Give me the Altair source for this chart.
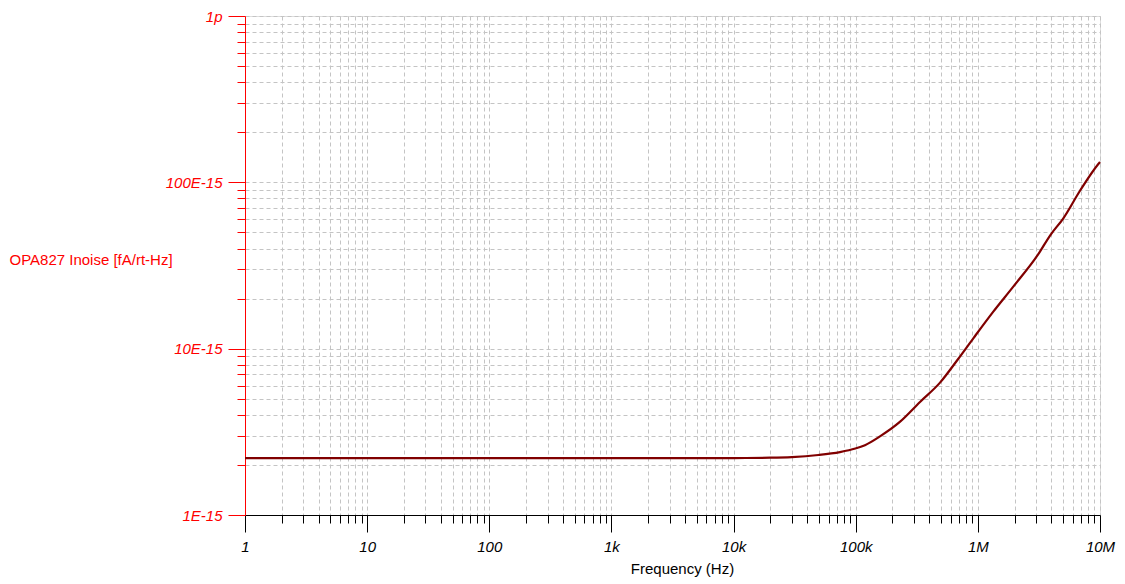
import altair as alt
import pandas as pd

# Frequency (Hz) and OPA827 current noise (fA/rt-Hz)
freq_hz = [1, 10, 100, 1000, 10000, 20000, 30000, 49400, 74300, 99300,
           119000, 158000, 231000, 336000, 490000, 692000, 918000, 1338000,
           1950000, 3125000, 3900000, 5010000, 6860000, 9690000, 10000000]
inoise_fa = [2.2, 2.2, 2.2, 2.2, 2.2, 2.21, 2.23, 2.295, 2.39, 2.51,
             2.63, 2.97, 3.64, 4.78, 6.25, 8.7, 11.54, 16.69,
             23.6, 37.0, 47.9, 60.8, 89.0, 128.9, 132.5]

x_tick_values = [1, 2, 3, 4, 5, 6, 7, 8, 9,
                 10, 20, 30, 40, 50, 60, 70, 80, 90,
                 100, 200, 300, 400, 500, 600, 700, 800, 900,
                 1000, 2000, 3000, 4000, 5000, 6000, 7000, 8000, 9000,
                 10000, 20000, 30000, 40000, 50000, 60000, 70000, 80000, 90000,
                 100000, 200000, 300000, 400000, 500000, 600000, 700000, 800000, 900000,
                 1000000, 2000000, 3000000, 4000000, 5000000, 6000000, 7000000, 8000000, 9000000,
                 10000000]
x_major = [1, 10, 100, 1000, 10000, 100000, 1000000, 10000000]
x_major_labels = ["1", "10", "100", "1k", "10k", "100k", "1M", "10M"]

y_tick_values = [1, 2, 3, 4, 5, 6, 7, 8, 9,
                 10, 20, 30, 40, 50, 60, 70, 80, 90,
                 100, 200, 300, 400, 500, 600, 700, 800, 900,
                 1000]
y_major = [1, 10, 100, 1000]
y_major_labels = ["1E-15", "10E-15", "100E-15", "1p"]

df = pd.DataFrame({"f": freq_hz, "i": inoise_fa})


def label_expr(values, labels):
    expr = "''"
    for v, lab in reversed(list(zip(values, labels))):
        expr = f"datum.value == {v} ? '{lab}' : ({expr})"
    return expr


def minor_test(values):
    arr = ",".join(str(v) for v in values)
    return f"indexof([{arr}], datum.value) < 0"


FONT = "Liberation Sans"

x_axis = alt.Axis(
    values=x_tick_values,
    labelExpr=label_expr(x_major, x_major_labels),
    tickSize={"condition": {"test": minor_test(x_major), "value": 8}, "value": 17},
    tickColor="#000000",
    tickWidth=1,
    domainColor="#000000",
    domainWidth=1,
    grid=True,
    gridColor="#c4c4c4",
    gridDash=[4, 3],
    gridWidth=1,
    labelFont=FONT,
    labelFontSize=15,
    labelFontStyle="italic",
    labelColor="#000000",
    labelPadding=7,
    labelFlush=False,
    labelOverlap=False,
    title="Frequency (Hz)",
    titleFont=FONT,
    titleFontSize=15,
    titleFontWeight="normal",
    titleColor="#000000",
    titleX=437,
    titleY=53,
    titleAlign="center",
    titleBaseline="middle",
)

y_axis = alt.Axis(
    values=y_tick_values,
    labelExpr=label_expr(y_major, y_major_labels),
    tickSize={"condition": {"test": minor_test(y_major), "value": 8}, "value": 17},
    tickColor="#ff0000",
    tickWidth=1,
    domainColor="#ff0000",
    domainWidth=1,
    grid=True,
    gridColor="#c4c4c4",
    gridDash=[4, 3],
    gridWidth=1,
    labelFont=FONT,
    labelFontSize=15,
    labelFontStyle="italic",
    labelColor="#ff0000",
    labelPadding=6,
    labelFlush=False,
    labelOverlap=False,
    title="OPA827 Inoise [fA/rt-Hz]",
    titleFont=FONT,
    titleFontSize=15,
    titleFontWeight="normal",
    titleColor="#ff0000",
    titleAngle=0,
    titleX=-236,
    titleY=243,
    titleAlign="left",
    titleBaseline="middle",
)

chart = alt.Chart(df).mark_line(
    color="#800000", strokeWidth=2.2, interpolate="monotone"
).encode(
    x=alt.X("f:Q", scale=alt.Scale(type="log", domain=[1, 10000000], nice=False), axis=x_axis),
    y=alt.Y("i:Q", scale=alt.Scale(type="log", domain=[1, 1000], nice=False), axis=y_axis),
).properties(
    width=855,
    height=499,
    padding={"left": 237, "top": 8, "right": 17, "bottom": 62},
    autosize=alt.AutoSizeParams(type="none"),
).configure_view(
    stroke="#b4b4b4", strokeWidth=1
).configure(background="#ffffff")

chart.save("out.html", embed_options={"renderer": "svg", "actions": False})
